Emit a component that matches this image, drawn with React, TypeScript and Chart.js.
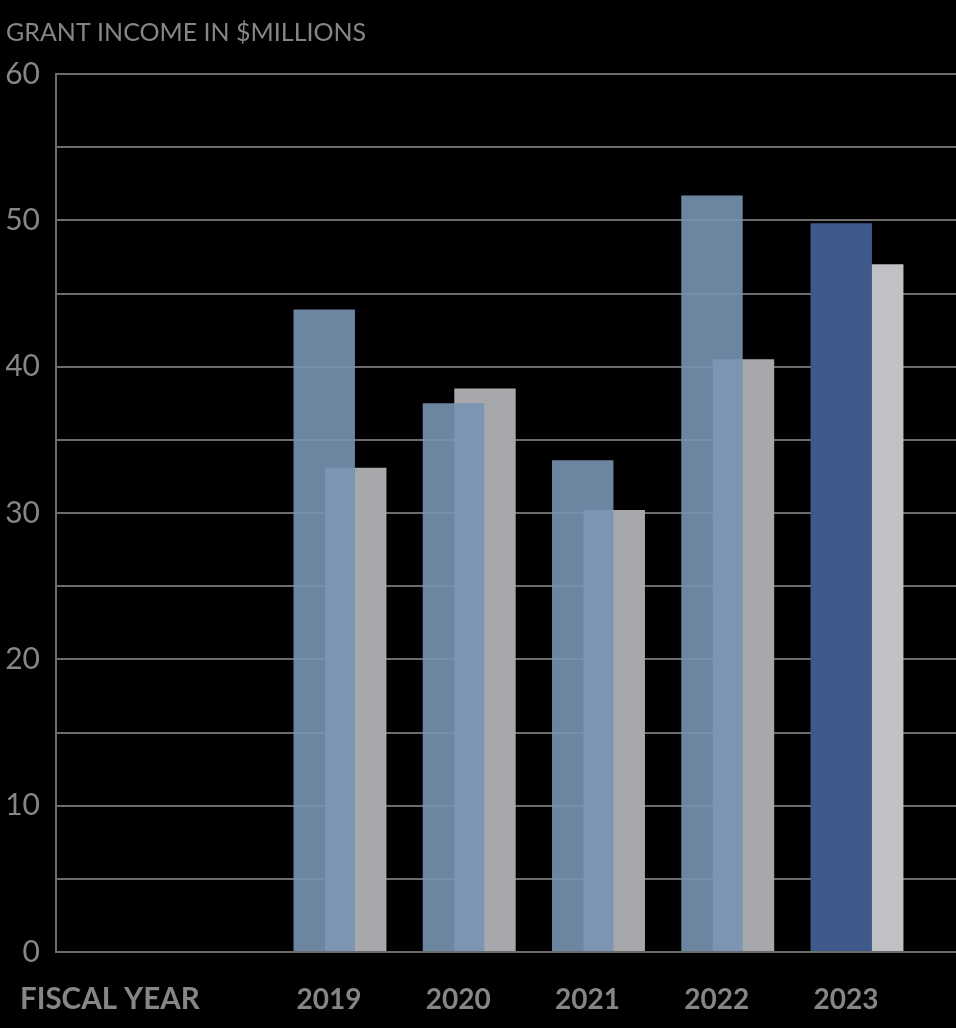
import React, { useEffect, useRef } from "react";
import { Chart, registerables } from "chart.js";

Chart.register(...registerables);

// ---- data ----
const years = [2019, 2020, 2021, 2022, 2023];
const grantIncome = [43.9, 37.5, 33.6, 51.7, 49.8];
const comparisonIncome = [33.1, 38.5, 30.2, 40.5, 47.0];
const yTickLabels = ["0", "10", "20", "30", "40", "50", "60"];
const chartTitle = "GRANT INCOME IN $MILLIONS";
const xAxisName = "FISCAL YEAR";

// ---- styles ----
const TEXT = "#868686";
const GRID = "#6c6c6c";
const BLUE = ["rgba(119,147,178,0.91)", "rgba(119,147,178,0.91)", "rgba(119,147,178,0.91)", "rgba(119,147,178,0.91)", "#3e5a8b"];
const GRAY = ["#a7a8ac", "#a7a8ac", "#a7a8ac", "#a7a8ac", "#c0c1c5"];
const FONT = "Lato, 'Open Sans', sans-serif";
const X_PAD = 31;
const X_FONT_SIZE = 28;

const extraLabels = {
  id: "extraLabels",
  afterDraw(chart: any) {
    const ctx = chart.ctx;
    ctx.save();
    ctx.fillStyle = TEXT;
    ctx.textAlign = "left";
    ctx.font = `400 25px ${FONT}`;
    ctx.textBaseline = "alphabetic";
    ctx.fillText(chartTitle, 6, 41);
    const xs = chart.scales.x;
    ctx.font = `700 29.5px ${FONT}`;
    ctx.textBaseline = "middle";
    ctx.fillText(xAxisName, 20, xs.top + X_PAD + (X_FONT_SIZE * 1.2) / 2);
    ctx.restore();
  },
};

export default function App() {
  const ref = useRef<HTMLCanvasElement | null>(null);

  useEffect(() => {
    document.body.style.margin = "0";
    document.body.style.background = "#000";
    const canvas = ref.current;
    if (!canvas) return;
    const chart = new Chart(canvas, {
      type: "bar",
      data: {
        datasets: [
          {
            label: "Grant income",
            data: years.map((y, i) => ({ x: y, y: grantIncome[i] })),
            backgroundColor: BLUE,
            borderWidth: 0,
          },
          {
            label: "Comparison",
            data: years.map((y, i) => ({ x: y, y: comparisonIncome[i] })),
            backgroundColor: GRAY,
            borderWidth: 0,
          },
        ],
      },
      options: {
        animation: false,
        responsive: true,
        maintainAspectRatio: false,
        categoryPercentage: 0.4874,
        barPercentage: 1.95,
        layout: { padding: { left: 6, top: 74, right: 0, bottom: 0 } },
        plugins: {
          legend: { display: false },
          tooltip: { enabled: false },
          title: { display: false },
        },
        scales: {
          x: {
            type: "linear",
            offset: false,
            min: 2016.803,
            max: 2023.766,
            grid: { display: false, drawTicks: false, offset: false },
            border: { display: false },
            ticks: {
              stepSize: 1,
              includeBounds: false,
              autoSkip: false,
              maxRotation: 0,
              padding: X_PAD,
              labelOffset: -11,
              color: TEXT,
              font: { family: FONT, size: X_FONT_SIZE, weight: "700" },
              callback: (v: any) => (years.includes(Number(v)) ? String(v) : ""),
            },
            afterFit: (s: any) => {
              s.height = 76;
            },
          },
          y: {
            min: 0,
            max: 60,
            grid: { color: GRID, lineWidth: 2, drawTicks: false },
            border: { display: true, color: GRID, width: 2 },
            ticks: {
              stepSize: 5,
              autoSkip: false,
              padding: 16,
              color: TEXT,
              font: { family: FONT, size: 30, weight: "400" },
              callback: (v: any) => {
                const s = String(v);
                return yTickLabels.includes(s) ? s : "";
              },
            },
            afterFit: (s: any) => {
              s.width = 50;
            },
          },
        },
      },
      plugins: [extraLabels],
    } as any);
    return () => chart.destroy();
  }, []);

  return (
    <div
      style={{
        position: "fixed",
        left: 0,
        top: 0,
        width: 956,
        height: 1028,
        background: "#000",
      }}
    >
      <canvas ref={ref} />
    </div>
  );
}
